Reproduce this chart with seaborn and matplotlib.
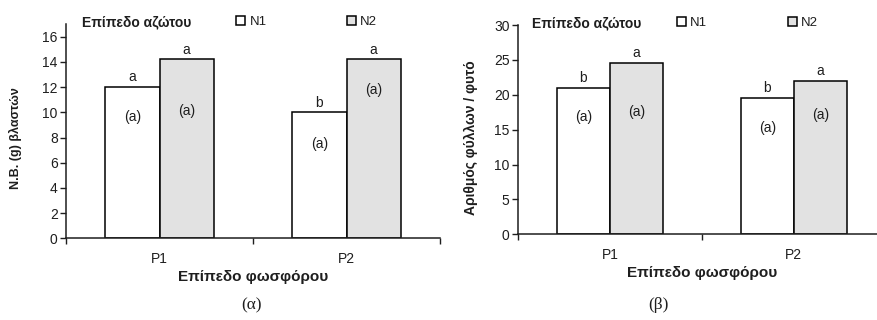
import matplotlib
matplotlib.use("Agg")
import matplotlib.pyplot as plt
import seaborn as sns
import pandas as pd
from matplotlib.ticker import FixedLocator

sns.set_theme(style="white")
plt.rcParams["font.family"] = ["Liberation Sans", "DejaVu Sans"]

# Data
phosphorus = ["P1", "P2"]
nitrogen = ["N1", "N2"]
weight_n1 = [12.0, 10.0]
weight_n2 = [14.2, 14.2]
leaves_n1 = [21.0, 19.5]
leaves_n2 = [24.6, 22.0]

weight_top_n1 = ["a", "b"]
weight_top_n2 = ["a", "a"]
leaves_top_n1 = ["b", "b"]
leaves_top_n2 = ["a", "a"]
inner_label = "(a)"

# inner label height as fraction of the bar
weight_inner_frac_n1 = [0.80, 0.75]
weight_inner_frac_n2 = [0.71, 0.83]
leaves_inner_frac_n1 = [0.80, 0.78]
leaves_inner_frac_n2 = [0.71, 0.78]

legend_title = "Επίπεδο αζώτου"
xlabel = "Επίπεδο φωσφόρου"
ylabel_left = "Ν.Β. (g) βλαστών"
ylabel_right = "Αριθμός φύλλων / φυτό"

colors = {"N1": "#ffffff", "N2": "#e2e2e2"}
ink = "#1e1e1e"


def make_df(v1, v2):
    return pd.DataFrame({
        "P": phosphorus * 2,
        "N": ["N1"] * len(phosphorus) + ["N2"] * len(phosphorus),
        "value": list(v1) + list(v2),
    })


fig = plt.figure(figsize=(8.78, 3.2), dpi=100)
fig.patch.set_facecolor("white")

ax1 = fig.add_axes([0.0752, 0.2553, 0.426, 0.6694])
ax2 = fig.add_axes([0.590, 0.2678, 0.419, 0.654])


def draw(ax, v1, v2, top1, top2, frac1, frac2, ymax, yticks, ylabel,
         ylabel_size, ylabel_pos, leg_x, title_x):
    df = make_df(v1, v2)
    sns.barplot(data=df, x="P", y="value", hue="N", hue_order=nitrogen,
                order=phosphorus, palette=colors, width=0.58, gap=0,
                edgecolor="black", linewidth=1.1, ax=ax, errorbar=None)
    ax.set_xlim(-0.5, 1.5)
    ax.set_ylim(0, ymax)
    ax.set_yticks(yticks)
    ax.xaxis.set_major_locator(FixedLocator([0, 1]))
    ax.xaxis.set_minor_locator(FixedLocator([-0.5, 0.5, 1.5]))
    ax.tick_params(axis="x", which="major", length=0, pad=10,
                   labelsize=10, colors=ink)
    ax.tick_params(axis="x", which="minor", length=4, width=1,
                   direction="out", color=ink, bottom=True)
    ax.tick_params(axis="y", length=4, width=1, direction="out",
                   labelsize=10, colors=ink, left=True, pad=2)
    for s in ["top", "right"]:
        ax.spines[s].set_visible(False)
    for s in ["left", "bottom"]:
        ax.spines[s].set_color(ink)
        ax.spines[s].set_linewidth(1.1)
    ax.set_xlabel(xlabel, fontsize=11, fontweight="bold", color=ink,
                  labelpad=3)
    ax.set_ylabel(ylabel, fontsize=ylabel_size, fontweight="bold",
                  color=ink)
    ax.yaxis.set_label_coords(*ylabel_pos)

    # letters above and inside the bars
    for cont, tops, fracs, vals in zip(ax.containers, [top1, top2],
                                       [frac1, frac2], [v1, v2]):
        ax.bar_label(cont, labels=tops, padding=2, fontsize=10, color=ink)
        for bar, f, v in zip(cont, fracs, vals):
            ax.text(bar.get_x() + bar.get_width() / 2, v * f, inner_label,
                    ha="center", va="center", fontsize=10, color=ink)

    handles, labels = ax.get_legend_handles_labels()
    leg = ax.legend(handles, labels, loc="center left",
                    bbox_to_anchor=(leg_x, 1.01), ncol=2, frameon=False,
                    fontsize=9.5, handlelength=0.7, handleheight=0.7,
                    handletextpad=0.3, columnspacing=6.1, borderpad=0,
                    borderaxespad=0)
    for t in leg.get_texts():
        t.set_color(ink)
    ax.text(title_x, 1.01, legend_title, transform=ax.transAxes,
            ha="left", va="center", fontsize=10, fontweight="bold",
            color=ink)


draw(ax1, weight_n1, weight_n2, weight_top_n1, weight_top_n2,
     weight_inner_frac_n1, weight_inner_frac_n2, 17, range(0, 17, 2),
     ylabel_left, 9, (-0.118, 0.47), 0.455, 0.043)
draw(ax2, leaves_n1, leaves_n2, leaves_top_n1, leaves_top_n2,
     leaves_inner_frac_n1, leaves_inner_frac_n2, 30, range(0, 31, 5),
     ylabel_right, 10, (-0.108, 0.46), 0.432, 0.038)

fig.text(0.287, 0.047, "(α)", ha="center", va="center", fontsize=12.5,
         family=["Liberation Serif", "DejaVu Serif"], color=ink)
fig.text(0.750, 0.047, "(β)", ha="center", va="center", fontsize=12.5,
         family=["Liberation Serif", "DejaVu Serif"], color=ink)

fig.savefig("out.png", dpi=100, facecolor="white")
